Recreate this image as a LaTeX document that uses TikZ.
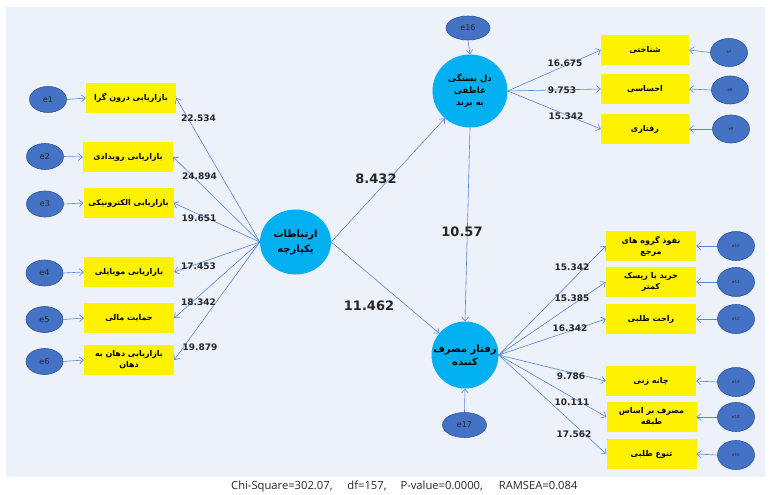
\documentclass[tikz,border=0pt]{standalone}
\usepackage{fontspec}
\setmainfont{DejaVu Sans}
\newfontfamily\fa[Script=Arabic]{DejaVu Sans}
\newfontfamily\numfont{DejaVu Sans}
\newfontfamily\btmfont{Open Sans}
\TeXXeTstate=1
\usetikzlibrary{arrows.meta,shapes.geometric}
\definecolor{bg}{HTML}{EDF1F9}
\definecolor{eblue}{HTML}{4472C4}
\definecolor{eborder}{HTML}{2F5597}
\definecolor{lineblue}{HTML}{5B84D6}
\definecolor{cyanc}{HTML}{00B0F0}
\definecolor{txt}{HTML}{262626}
\newcommand\pr[1]{\beginR #1\endR}
\tikzset{
  ybox/.style={fill=yellow, minimum width=90, minimum height=30, inner sep=1pt,
    font=\fa\bfseries\fontsize{8}{11}\selectfont, align=center, text=black},
  errl/.style={ellipse, fill=eblue, draw=eborder, line width=0.6pt, minimum width=37, minimum height=26, inner sep=0pt,
    font=\fontsize{8}{9}\selectfont, text=txt},
  errs/.style={errl, font=\fontsize{4}{5}\selectfont},
  latent/.style={circle, fill=cyanc, inner sep=0pt, align=center,
    font=\fa\bfseries\fontsize{8.5}{12}\selectfont, text=black},
  arr/.style={draw=lineblue, line width=0.6pt, -{Straight Barb[length=4pt,width=7pt]}},
  lbl/.style={font=\numfont\bfseries\fontsize{9}{10}\selectfont, text=txt, inner sep=0pt},
  biglbl/.style={font=\numfont\bfseries\fontsize{13}{14}\selectfont, text=txt, inner sep=0pt}
}
\begin{document}
\begin{tikzpicture}[x=1pt,y=-1pt]
\useasboundingbox (0,0) rectangle (771,495);
\fill[bg] (6,7) rectangle (765,477);

% latent variables
\node[latent, ellipse, minimum width=71, minimum height=65, font=\fa\bfseries\fontsize{10}{15}\selectfont] (C) at (295.5,242) {\pr{ارتباطات}\\\pr{یکپارچه}};
\node[latent, ellipse, minimum width=75, minimum height=73] (T) at (470,91) {\pr{دل بستگی}\\\pr{عاطفی}\\\pr{به برند}};
\node[latent, minimum size=67, font=\fa\bfseries\fontsize{10}{13}\selectfont] (B) at (465,355) {\pr{رفتار مصرف}\\\pr{کننده}};
\node[errl, minimum width=44, minimum height=24] (e16) at (468,28) {e16};
\node[errl, minimum width=44, minimum height=25] (e17) at (464.5,425) {e17};

% left boxes
\node[ybox] (b1) at (131,98) {\pr{بازاریابی درون گرا}};
\node[ybox] (b2) at (128,157) {\pr{بازاریابی رویدادی}};
\node[ybox] (b3) at (128.5,203) {\pr{بازاریابی الکترونیکی}};
\node[ybox] (b4) at (129,272) {\pr{بازاریابی موبایلی}};
\node[ybox] (b5) at (129,318) {\pr{حمایت مالی}};
\node[ybox] (b6) at (129,360) {\pr{بازاریابی دهان به}\\\pr{دهان}};
\node[errl] (e1) at (48,99.5) {e1};
\node[errl] (e2) at (45,156.5) {e2};
\node[errl] (e3) at (45,204) {e3};
\node[errl] (e4) at (44.5,273) {e4};
\node[errl] (e5) at (44.5,319.5) {e5};
\node[errl] (e6) at (44.5,361.5) {e6};

% right top boxes
\node[ybox, minimum width=88] (b7) at (645,50) {\pr{شناختی}};
\node[ybox, minimum width=88] (b8) at (645,89) {\pr{احساسی}};
\node[ybox, minimum width=88] (b9) at (645,129) {\pr{رفتاری}};
\node[errs, minimum height=28] (e7) at (729,52.5) {e7};
\node[errs, minimum height=28] (e8) at (730,90) {e8};
\node[errs, minimum height=28] (e9) at (731,129) {e9};

% right bottom boxes
\node[ybox] (b10) at (651,246) {\pr{نفوذ گروه های}\\\pr{مرجع}};
\node[ybox] (b11) at (651,282) {\pr{خرید با ریسک}\\\pr{کمتر}};
\node[ybox] (b12) at (651,319) {\pr{راحت طلبی}};
\node[ybox] (b13) at (651,381) {\pr{چانه زنی}};
\node[ybox] (b14) at (651.5,417) {\pr{مصرف بر اساس}\\\pr{طبقه}};
\node[ybox] (b15) at (651.5,454) {\pr{تنوع طلبی}};
\node[errs, minimum height=29] (e10) at (736,246) {e10};
\node[errs, minimum height=29] (e11) at (736,282) {e11};
\node[errs, minimum height=29] (e12) at (736,319) {e12};
\node[errs, minimum height=29] (e13) at (736,382) {e13};
\node[errs, minimum height=29] (e14) at (736,417) {e14};
\node[errs, minimum height=29] (e15) at (736,455) {e15};

% arrows
\foreach \i in {1,...,6} {
  \draw[arr] (e\i.east) -- (b\i.west);
  \draw[arr] (C.west) -- (b\i.east);
}
\foreach \i in {7,8,9} {
  \draw[arr] (e\i.west) -- (b\i.east);
  \draw[arr] (T.east) -- (b\i.west);
}
\foreach \i in {10,...,15} {
  \draw[arr] (e\i.west) -- (b\i.east);
  \draw[arr] (B.east) -- (b\i.west);
}
\draw[arr] (C.east) -- (T);
\draw[arr] (C.east) -- (B);
\draw[arr] (T.south) -- (B.north);
\draw[arr] (e16.south) -- (T.north);
\draw[arr] (e17.north) -- (B.south);

% labels
\node[lbl] (l1) at (198.5,118) {22.534};
\node[lbl] (l2) at (199.5,176) {24.894};
\node[lbl] (l3) at (199,218) {19.651};
\node[lbl] (l4) at (198.5,266) {17.453};
\node[lbl] (l5) at (198.5,302) {18.342};
\node[lbl] (l6) at (200,347) {19.879};
\node[biglbl] (l7) at (376,179) {8.432};
\node[biglbl] (l8) at (462,232) {10.57};
\node[biglbl] (l9) at (369,306) {11.462};
\node[lbl] (l10) at (565,63) {16.675};
\node[lbl] (l11) at (562,90) {9.753};
\node[lbl] (l12) at (566,116) {15.342};
\node[lbl] (l13) at (572,267) {15.342};
\node[lbl] (l14) at (572,298) {15.385};
\node[lbl] (l15) at (570,328) {16.342};
\node[lbl] (l16) at (571,376) {9.786};
\node[lbl] (l17) at (572,402) {10.111};
\node[lbl] (l18) at (574,434) {17.562};

\node[font=\btmfont\fontsize{11.2}{13}\selectfont, text=txt, anchor=west, inner sep=0pt] (fit) at (231,487)
  {Chi-Square=302.07,\hspace{15pt}df=157,\hspace{14pt}P-value=0.0000,\hspace{16pt}RAMSEA=0.084};
\end{tikzpicture}
\end{document}
